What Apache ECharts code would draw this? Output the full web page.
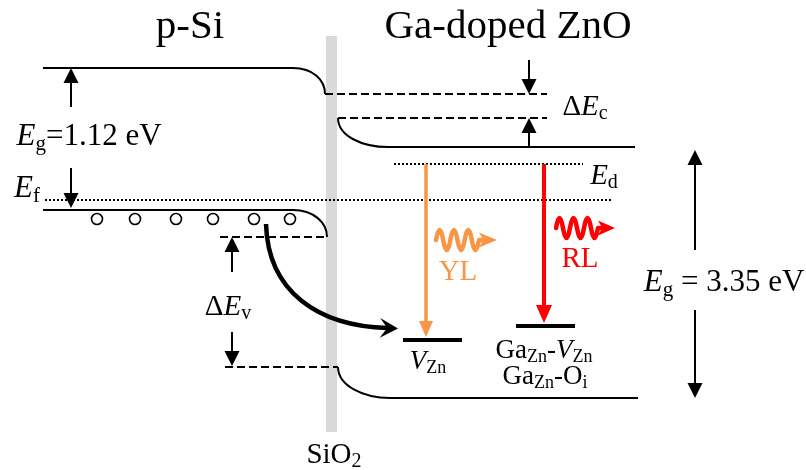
<!DOCTYPE html>
<html>
<head>
<meta charset="utf-8">
<script src="https://cdn.jsdelivr.net/npm/echarts@6/dist/echarts.min.js"></script>
<style>
  html, body { margin: 0; padding: 0; background: #fff; }
  #chart { width: 806px; height: 470px; }
</style>
</head>
<body>
<div id="chart"></div>
<script>
// diagram coordinates (x: 0..806 left→right, y: 0..470 top→bottom)

// band edges, solid [x1, y1, x2, y2]
const bandLines = [
  [43, 68, 293, 68],    // p-Si Ec
  [43, 210, 293, 210],  // p-Si Ev
  [388, 147, 635, 147], // ZnO Ec
  [390, 398, 638, 398]  // ZnO Ev
]
// band bending near the interface, cubic bezier [x1, y1, c1x, c1y, c2x, c2y, x2, y2]
const bandBends = [
  [293, 68, 313, 68, 325, 80, 325, 94],
  [293, 210, 313, 210, 327, 222, 327, 237],
  [338, 118, 338, 136, 362, 147, 388, 147],
  [338, 367, 338, 386, 364, 398, 390, 398]
]
// deep defect levels
const defectLevels = [
  [403, 340, 462, 340], // V_Zn
  [516, 326, 575, 326]  // Ga_Zn-V_Zn / Ga_Zn-O_i
]
// band offsets (dashed)
const offsetLines = [
  [325, 94, 547, 94],
  [338, 118, 547, 118],
  [220, 237, 328, 237],
  [225, 367, 338, 367]
]
// Fermi level and donor level (dotted)
const dottedLevels = [
  [45, 200, 611, 200],
  [394, 164, 583, 164]
]
// holes in the Si valence band
const holes = [[97, 219], [135, 219], [176, 219], [213, 219], [254, 219], [290, 219]]
// SiO2 interlayer [x1, y1, x2, y2]
const oxide = [[326, 36, 337, 432]]
// black double-sided gap arrows [from x, from y, tip x, tip y]
const gapArrows = [
  [71, 107, 71, 68], [71, 168, 71, 208],
  [232, 272, 232, 237], [232, 332, 232, 366],
  [529, 60, 529, 94], [529, 147, 529, 118],
  [695, 250, 695, 150], [695, 310, 695, 398]
]
const ylArrow = [[426, 164, 426, 337]]
const rlArrow = [[544, 164, 544, 323]]
// hole transfer from Si to V_Zn
const holeTransfer = [[266, 224, 268, 292, 318, 326, 384, 328]]
// emitted photons [start x, y, wave end x, tip x]
const ylPhoton = [[436, 240, 479, 497]]
const rlPhoton = [[556, 228, 598, 615]]

// text labels [x, y, rich text]
const titleLabels = [
  [190, 27, '{n|p-Si}'],
  [508, 27, '{n|Ga-doped ZnO}']
]
const bigLabels = [
  [89, 137, '{i|E}{s|g}{n|=1.12 eV}'],
  [724, 283, '{i|E}{s|g}{n| = 3.35 eV}'],
  [27, 189, '{i|E}{s|f}']
]
const midLabels = [
  [585, 107, '{n|Δ}{i|E}{s|c}'],
  [604, 176, '{i|E}{s|d}'],
  [228, 307, '{n|Δ}{i|E}{s|v}'],
  [458, 272, '{o|YL}'],
  [580, 259, '{r|RL}'],
  [334, 455, '{n|SiO}{s|2}']
]
const defectLabels = [
  [428, 362, '{i|V}{s|Zn}'],
  [544, 351, '{n|Ga}{s|Zn}{n|-}{i|V}{s|Zn}'],
  [545, 377, '{n|Ga}{s|Zn}{n|-O}{s|i}']
]

const serif = '"Liberation Serif", "Times New Roman", serif'
const orange = '#f79646'
const red = '#ff0000'

function richFor(F) {
  const base = { fontFamily: serif, fontSize: F, fill: '#000' }
  return {
    n: base,
    i: { ...base, fontStyle: 'italic' },
    s: { fontFamily: serif, fontSize: Math.round(F * 0.68), fill: '#000', padding: [Math.round(F * 0.46), 0, 0, 0] },
    o: { ...base, fill: orange },
    r: { ...base, fill: red }
  }
}

function segmentSeries(data, style) {
  return {
    type: 'custom',
    clip: false,
    silent: true,
    data,
    encode: { x: [0, 2], y: [1, 3] },
    renderItem: (params, api) => {
      const a = api.coord([api.value(0), api.value(1)])
      const b = api.coord([api.value(2), api.value(3)])
      return { type: 'line', shape: { x1: a[0], y1: a[1], x2: b[0], y2: b[1] }, style: { ...style } }
    }
  }
}

function curveSeries(data, style) {
  return {
    type: 'custom',
    clip: false,
    silent: true,
    data,
    encode: { x: [0, 6], y: [1, 7] },
    renderItem: (params, api) => {
      const p = [0, 2, 4, 6].map((k) => api.coord([api.value(k), api.value(k + 1)]))
      return {
        type: 'bezierCurve',
        shape: { x1: p[0][0], y1: p[0][1], cpx1: p[1][0], cpy1: p[1][1], cpx2: p[2][0], cpy2: p[2][1], x2: p[3][0], y2: p[3][1] },
        style: { fill: null, ...style }
      }
    }
  }
}

function headPoints(tip, ux, uy, len, width, notch) {
  const bx = tip[0] - ux * len
  const by = tip[1] - uy * len
  const pts = [[tip[0], tip[1]], [bx - uy * width / 2, by + ux * width / 2]]
  if (notch) pts.push([tip[0] - ux * len * notch, tip[1] - uy * len * notch])
  pts.push([bx + uy * width / 2, by - ux * width / 2])
  return pts
}

function arrowSeries(data, color, lw, hl, hw) {
  return {
    type: 'custom',
    clip: false,
    silent: true,
    data,
    encode: { x: [0, 2], y: [1, 3] },
    renderItem: (params, api) => {
      const a = api.coord([api.value(0), api.value(1)])
      const b = api.coord([api.value(2), api.value(3)])
      const L = Math.hypot(b[0] - a[0], b[1] - a[1])
      const ux = (b[0] - a[0]) / L
      const uy = (b[1] - a[1]) / L
      const ex = b[0] - ux * (hl - 1)
      const ey = b[1] - uy * (hl - 1)
      return {
        type: 'group',
        children: [
          { type: 'line', shape: { x1: a[0], y1: a[1], x2: ex, y2: ey }, style: { stroke: color, lineWidth: lw } },
          { type: 'polygon', shape: { points: headPoints(b, ux, uy, hl, hw) }, style: { fill: color } }
        ]
      }
    }
  }
}

function transferSeries(data) {
  return {
    type: 'custom',
    clip: false,
    silent: true,
    data,
    encode: { x: [0, 6], y: [1, 7] },
    renderItem: (params, api) => {
      const p = [0, 2, 4, 6].map((k) => api.coord([api.value(k), api.value(k + 1)]))
      const dx = p[3][0] - p[2][0]
      const dy = p[3][1] - p[2][1]
      const L = Math.hypot(dx, dy)
      const ux = dx / L
      const uy = dy / L
      const tip = [p[3][0] + ux * 14, p[3][1] + uy * 14]
      return {
        type: 'group',
        children: [
          {
            type: 'bezierCurve',
            shape: { x1: p[0][0], y1: p[0][1], cpx1: p[1][0], cpy1: p[1][1], cpx2: p[2][0], cpy2: p[2][1], x2: p[3][0] + ux * 4, y2: p[3][1] + uy * 4 },
            style: { fill: null, stroke: '#000', lineWidth: 4.5 }
          },
          { type: 'polygon', shape: { points: headPoints(tip, ux, uy, 18, 20, 0.6) }, style: { fill: '#000' } }
        ]
      }
    }
  }
}

function photonSeries(data, color) {
  return {
    type: 'custom',
    clip: false,
    silent: true,
    data,
    encode: { x: [0, 3], y: [1, 1] },
    renderItem: (params, api) => {
      const s = api.coord([api.value(0), api.value(1)])
      const e = api.coord([api.value(2), api.value(1)])
      const t = api.coord([api.value(3), api.value(1)])
      const halves = 6
      const amp = 10
      const h = (e[0] - s[0]) / halves
      let d = `M${s[0]} ${s[1]}`
      for (let k = 0; k < halves; k++) {
        const sign = k % 2 === 0 ? -1 : 1
        d += ` Q${s[0] + h * (k + 0.5)} ${s[1] + sign * 2 * amp} ${s[0] + h * (k + 1)} ${s[1]}`
      }
      d += ` L${e[0] + 3} ${e[1]}`
      return {
        type: 'group',
        children: [
          { type: 'path', shape: { pathData: d }, style: { fill: null, stroke: color, lineWidth: 4.5, lineJoin: 'round', lineCap: 'round' } },
          { type: 'polygon', shape: { points: headPoints(t, 1, 0, t[0] - e[0], 15, 0.75) }, style: { fill: color } }
        ]
      }
    }
  }
}

function labelSeries(labels, F) {
  return {
    type: 'custom',
    clip: false,
    silent: true,
    data: labels.map((l) => [l[0], l[1]]),
    encode: { x: 0, y: 1 },
    renderItem: (params, api) => {
      const p = api.coord([api.value(0), api.value(1)])
      return {
        type: 'text',
        x: p[0],
        y: p[1],
        style: {
          text: labels[params.dataIndex][2],
          rich: richFor(F),
          fontFamily: serif,
          fontSize: F,
          align: 'center',
          verticalAlign: 'middle'
        }
      }
    }
  }
}

const chart = echarts.init(document.getElementById('chart'), null, { renderer: 'canvas' })

chart.setOption({
  animation: false,
  backgroundColor: '#fff',
  grid: { left: 0, right: 0, top: 0, bottom: 0 },
  xAxis: { type: 'value', min: 0, max: 806, show: false },
  yAxis: { type: 'value', min: 0, max: 470, inverse: true, show: false },
  series: [
    // SiO2 interlayer
    {
      type: 'custom',
      clip: false,
      silent: true,
      data: oxide,
      encode: { x: [0, 2], y: [1, 3] },
      renderItem: (params, api) => {
        const a = api.coord([api.value(0), api.value(1)])
        const b = api.coord([api.value(2), api.value(3)])
        return { type: 'rect', shape: { x: a[0], y: a[1], width: b[0] - a[0], height: b[1] - a[1] }, style: { fill: '#d9d9d9' } }
      }
    },
    segmentSeries(bandLines, { stroke: '#000', lineWidth: 2 }),
    curveSeries(bandBends, { stroke: '#000', lineWidth: 2 }),
    segmentSeries(defectLevels, { stroke: '#000', lineWidth: 4 }),
    segmentSeries(offsetLines, { stroke: '#000', lineWidth: 2, lineDash: [8, 4] }),
    segmentSeries(dottedLevels, { stroke: '#000', lineWidth: 2, lineDash: [2, 2] }),
    {
      type: 'scatter',
      silent: true,
      data: holes,
      symbol: 'circle',
      symbolSize: 11,
      itemStyle: { color: '#fff', borderColor: '#000', borderWidth: 1.6, opacity: 1 }
    },
    arrowSeries(gapArrows, '#000', 2, 15, 15),
    arrowSeries(ylArrow, orange, 3.5, 16, 14),
    arrowSeries(rlArrow, red, 4, 18, 16),
    transferSeries(holeTransfer),
    photonSeries(ylPhoton, orange),
    photonSeries(rlPhoton, red),
    labelSeries(titleLabels, 41),
    labelSeries(bigLabels, 31),
    labelSeries(midLabels, 29),
    labelSeries(defectLabels, 27)
  ]
})
</script>
</body>
</html>
